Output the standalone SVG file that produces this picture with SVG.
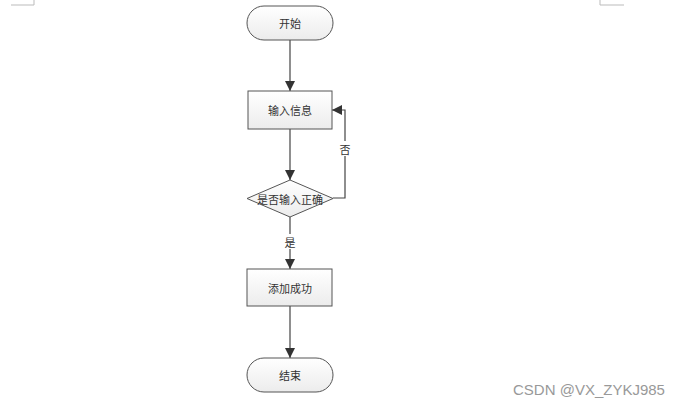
<svg xmlns="http://www.w3.org/2000/svg" width="679" height="406" viewBox="0 0 679 406">
<style>
.shape{stroke:#555;stroke-width:1;fill:url(#g)}
.line{stroke:#444;stroke-width:1.2;fill:none}
.t{font-family:"Noto Sans CJK SC","Noto Sans",sans-serif;font-size:11px;fill:#333;text-anchor:middle;dominant-baseline:central}
.corner{stroke:#bbb;stroke-width:1;fill:none}
</style>
<defs>
<linearGradient id="g" x1="0" y1="0" x2="0" y2="1">
<stop offset="0" stop-color="#ffffff"/>
<stop offset="1" stop-color="#ececec"/>
</linearGradient>
<marker id="arr" viewBox="0 0 10 10" refX="10" refY="5" markerWidth="10" markerHeight="10" markerUnits="userSpaceOnUse" orient="auto">
<path d="M0,0 L10,5 L0,10 z" fill="#333"/>
</marker>
</defs>
<path class="corner" d="M34,0 V5 H11"/>
<path class="corner" d="M600,0 V5 H624"/>
<g id="connectors">
<path class="line" d="M290,40 V91" marker-end="url(#arr)"/>
<path class="line" d="M290,129 V180" marker-end="url(#arr)"/>
<path class="line" d="M333,198 H345 V110 H332" marker-end="url(#arr)"/>
<path class="line" d="M290,217 V269" marker-end="url(#arr)"/>
<path class="line" d="M290,306 V358" marker-end="url(#arr)"/>
<rect x="338" y="141" width="14" height="15" fill="#fff"/>
<text class="t" x="345" y="148.5">否</text>
<rect x="283" y="234" width="14" height="15" fill="#fff"/>
<text class="t" x="290" y="241.5">是</text>
</g>
<g id="start">
<rect class="shape" x="247" y="6" width="86" height="34" rx="17"/>
<text class="t" x="290" y="23">开始</text>
</g>
<g id="input">
<rect class="shape" x="248" y="91" width="84" height="38"/>
<text class="t" x="290" y="110">输入信息</text>
</g>
<g id="check">
<polygon class="shape" points="290,180 333,198.5 290,217 247,198.5"/>
<text class="t" x="290" y="198.5">是否输入正确</text>
</g>
<g id="add">
<rect class="shape" x="247" y="269" width="85" height="37"/>
<text class="t" x="290" y="287.5">添加成功</text>
</g>
<g id="end">
<rect class="shape" x="247" y="358" width="86" height="34" rx="17"/>
<text class="t" x="290" y="375">结束</text>
</g>
<text x="513" y="395" font-family="Liberation Sans,Arial,sans-serif" font-size="15" fill="#999">CSDN @VX_ZYKJ985</text>
</svg>
